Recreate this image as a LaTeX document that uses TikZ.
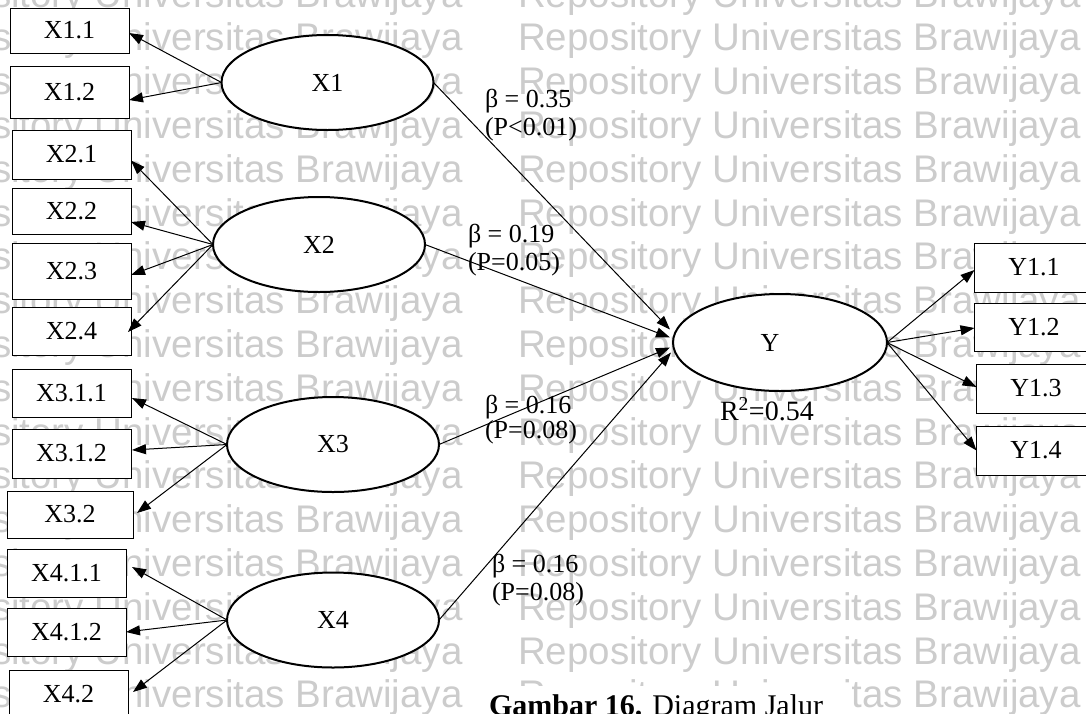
\documentclass[tikz,border=0pt]{standalone}
\usepackage{fontspec}
\setmainfont{Liberation Serif}
\newfontfamily\wmfont{Liberation Sans}
\usetikzlibrary{arrows.meta,calc,shapes.geometric}

\begin{document}
\begin{tikzpicture}[x=1pt,y=-1pt,
  every node/.style={inner sep=0pt, outer sep=0pt},
  ind/.style={draw, line width=1pt, fill=white, minimum width=119pt,
    font=\fontsize{26}{30}\selectfont},
  lat/.style={draw, ellipse, line width=2pt, fill=white,
    minimum width=212pt, minimum height=95pt, font=\fontsize{26}{30}\selectfont},
  arr/.style={line width=1pt, -{Triangle[length=14pt,width=10pt]}},
  coef/.style={anchor=base west, font=\fontsize{26}{30}\selectfont},
  wm/.style={anchor=base west, text=black!20, font=\wmfont\fontsize{38.5}{40}\selectfont}
]
\useasboundingbox (0,0) rectangle (1086,713);
\clip (0,0) rectangle (1086,713);

% background watermark rows
\foreach \j in {0,...,16} {
  \foreach \xo [count=\c] in {-100,518} {
    \node[wm] (wm\j-\c) at (\xo,{7+43.8*\j}) {Repository Universitas Brawijaya};
  }
}

% latent variables
\node[lat] (X1) at (327.5,82.5) {X1};
\node[lat] (X2) at (319,244.5) {X2};
\node[lat] (X3) at (333,444.5) {X3};
\node[lat] (X4) at (333,620) {X4};
\node[lat, minimum width=214pt, minimum height=97pt] (Y) at (780,342.5) {\hspace*{-20pt}Y};

% indicators of X1..X4
\node[ind, minimum height=45pt] (X11) at (69.5,30.5) {X1.1};
\node[ind, minimum height=52pt] (X12) at (69.5,92) {X1.2};
\node[ind, minimum height=49pt] (X21) at (71.5,154.5) {X2.1};
\node[ind, minimum height=46pt] (X22) at (71.5,211) {X2.2};
\node[ind, minimum height=56pt] (X23) at (71.5,271) {X2.3};
\node[ind, minimum height=48pt] (X24) at (71.5,331) {X2.4};
\node[ind, minimum height=48pt] (X311) at (71.5,393) {X3.1.1};
\node[ind, minimum height=49pt] (X312) at (71.5,453.5) {X3.1.2};
\node[ind, minimum height=47pt, minimum width=126pt] (X32) at (70,514.5) {X3.2};
\node[ind, minimum height=48pt] (X411) at (66.5,573) {X4.1.1};
\node[ind, minimum height=48pt] (X412) at (66.5,632) {X4.1.2};
\node[ind, minimum height=48pt] (X42) at (68.5,694) {X4.2};

% indicators of Y
\node[ind, minimum height=49pt] (Y11) at (1034,267.5) {Y1.1};
\node[ind, minimum height=48pt] (Y12) at (1034,327) {Y1.2};
\node[ind, minimum height=49pt] (Y13) at (1036,388.5) {Y1.3};
\node[ind, minimum height=49pt] (Y14) at (1036,450.5) {Y1.4};

% loadings
\draw[arr] (X1.west) -- ($(X11.east)+(0,2.5)$);
\draw[arr] (X1.west) -- ($(X12.east)+(0,8)$);
\draw[arr] (X2.west) -- ($(X21.east)+(0,6)$);
\draw[arr] (X2.west) -- ($(X22.east)+(0,11)$);
\draw[arr] (X2.west) -- ($(X23.east)+(0,4)$);
\draw[arr] (X2.west) -- ($(X24.east)+(-3,1)$);
\draw[arr] (X3.west) -- ($(X311.east)+(1,5)$);
\draw[arr] (X3.west) -- ($(X312.east)+(1,-3.5)$);
\draw[arr] (X3.west) -- ($(X32.east)+(4,-1.5)$);
\draw[arr] (X4.west) -- ($(X411.east)+(6,-6)$);
\draw[arr] (X4.west) -- ($(X412.east)+(0,0)$);
\draw[arr] (X4.west) -- ($(X42.east)+(5,-2)$);
\draw[arr] (Y.east) -- ($(Y11.west)+(0,2.5)$);
\draw[arr] (Y.east) -- ($(Y12.west)+(0,1)$);
\draw[arr] (Y.east) -- ($(Y13.west)+(0,-1.5)$);
\draw[arr] (Y.east) -- ($(Y14.west)+(0,0)$);

% structural paths
\draw[arr] (X1.east) -- ($(Y.west)+(-3,-13)$);
\draw[arr] (X2.east) -- ($(Y.west)+(-3,-5)$);
\draw[arr] (X3.east) -- ($(Y.west)+(-3,5)$);
\draw[arr] (X4.east) -- ($(Y.west)+(-2,10)$);

% path coefficients
\node[coef] (b1) at (485,107) {β = 0.35};
\node[coef] (p1) at (485,135.5) {(P<0.01)};
\node[coef] (b2) at (468,242) {β = 0.19};
\node[coef] (p2) at (468,270.5) {(P=0.05)};
\node[coef] (b3) at (485,413) {β = 0.16};
\node[coef] (p3) at (485,438.5) {(P=0.08)};
\node[coef] (b4) at (492,572) {β = 0.16};
\node[coef] (p4) at (492,600) {(P=0.08)};
\node[coef, font=\fontsize{28}{30}\selectfont] (r2) at (720,420) {R\textsuperscript{2}=0.54};

% caption
\fill[white] (470,686) rectangle (852,713);
\node[anchor=base west, font=\fontsize{30}{32}\selectfont] (cap) at (489,715)
  {\textbf{Gambar 16.} Diagram Jalur};
\end{tikzpicture}
\end{document}
